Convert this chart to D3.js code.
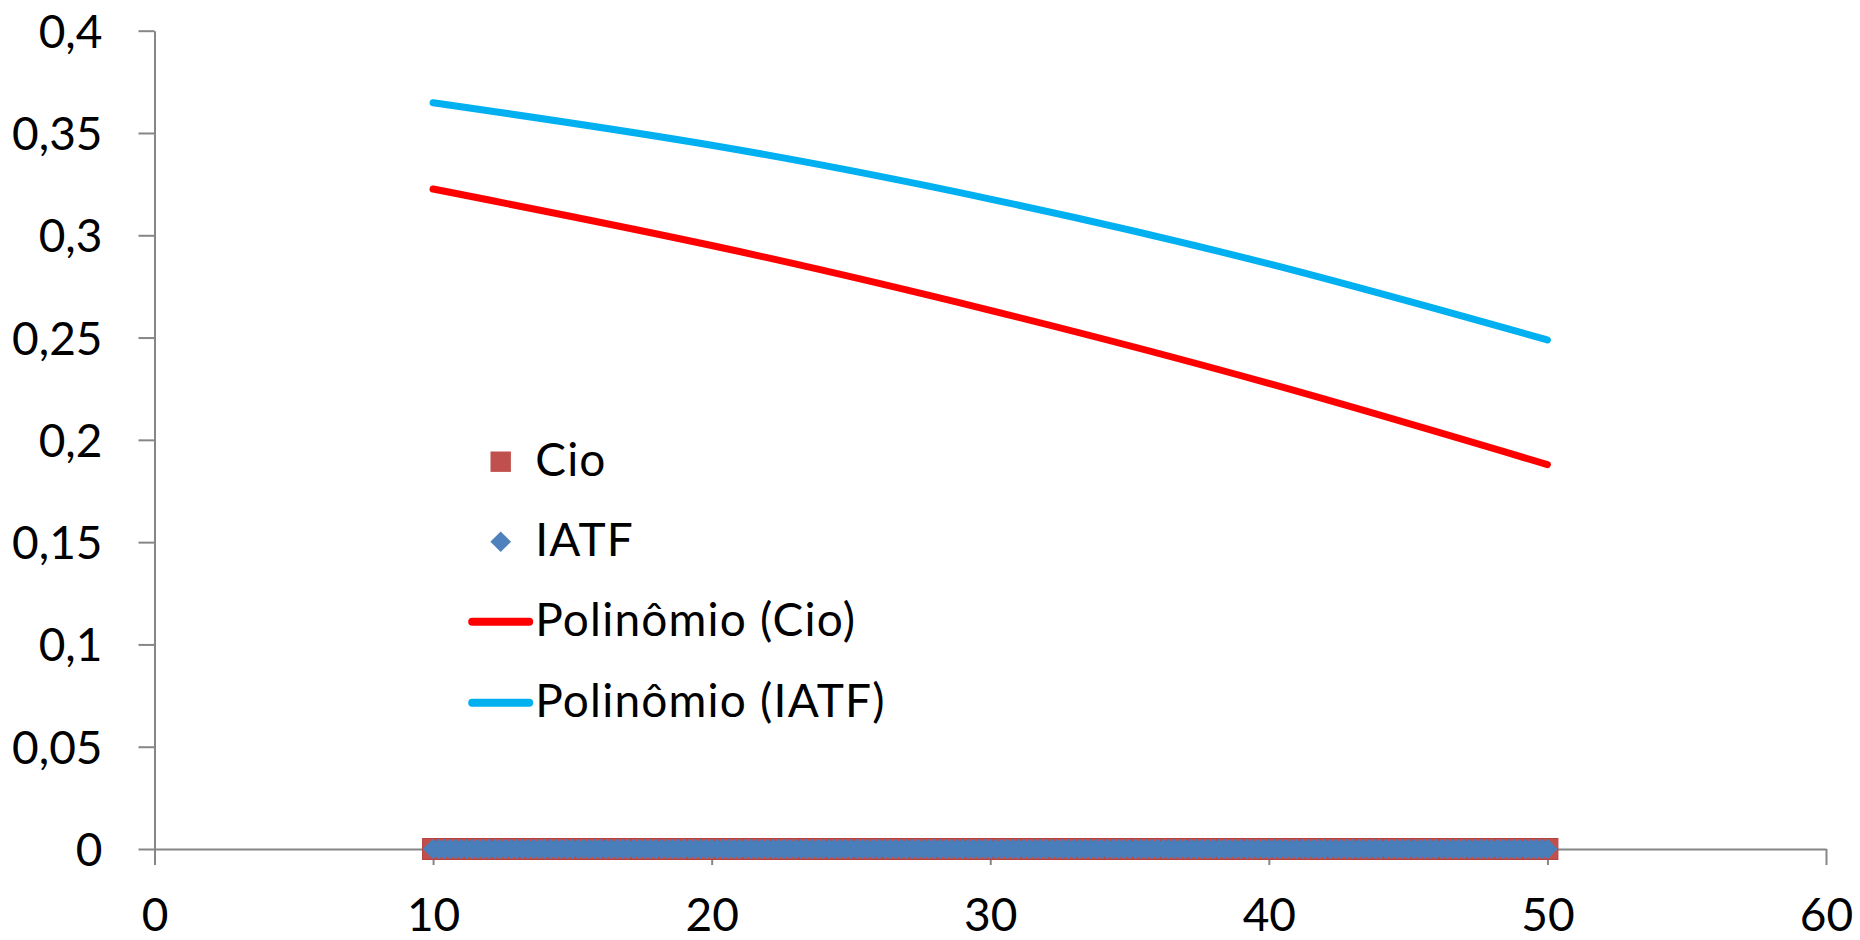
<!DOCTYPE html>
<html>
<head>
<meta charset="utf-8">
<script src="https://cdn.jsdelivr.net/npm/d3@7"></script>
<style>
  body { margin: 0; background: #fff; }
  svg { display: block; font-family: Lato, "Open Sans", sans-serif; }
</style>
</head>
<body>
<div id="grafico"></div>
<script>
// valores
const cioX = [
  10, 10.5, 11, 11.5, 12, 12.5, 13, 13.5, 14, 14.5, 15, 15.5, 16, 16.5, 17, 17.5,
  18, 18.5, 19, 19.5, 20, 20.5, 21, 21.5, 22, 22.5, 23, 23.5, 24, 24.5, 25, 25.5,
  26, 26.5, 27, 27.5, 28, 28.5, 29, 29.5, 30, 30.5, 31, 31.5, 32, 32.5, 33, 33.5,
  34, 34.5, 35, 35.5, 36, 36.5, 37, 37.5, 38, 38.5, 39, 39.5, 40, 40.5, 41, 41.5,
  42, 42.5, 43, 43.5, 44, 44.5, 45, 45.5, 46, 46.5, 47, 47.5, 48, 48.5, 49, 49.5, 50
];
const iatfX = [
  10, 10.2, 10.4, 10.6, 10.8, 11, 11.2, 11.4, 11.6, 11.8, 12, 12.2, 12.4, 12.6, 12.8,
  13, 13.2, 13.4, 13.6, 13.8, 14, 14.2, 14.4, 14.6, 14.8, 15, 15.2, 15.4, 15.6, 15.8,
  16, 16.2, 16.4, 16.6, 16.8, 17, 17.2, 17.4, 17.6, 17.8, 18, 18.2, 18.4, 18.6, 18.8,
  19, 19.2, 19.4, 19.6, 19.8, 20, 20.2, 20.4, 20.6, 20.8, 21, 21.2, 21.4, 21.6, 21.8,
  22, 22.2, 22.4, 22.6, 22.8, 23, 23.2, 23.4, 23.6, 23.8, 24, 24.2, 24.4, 24.6, 24.8,
  25, 25.2, 25.4, 25.6, 25.8, 26, 26.2, 26.4, 26.6, 26.8, 27, 27.2, 27.4, 27.6, 27.8,
  28, 28.2, 28.4, 28.6, 28.8, 29, 29.2, 29.4, 29.6, 29.8, 30, 30.2, 30.4, 30.6, 30.8,
  31, 31.2, 31.4, 31.6, 31.8, 32, 32.2, 32.4, 32.6, 32.8, 33, 33.2, 33.4, 33.6, 33.8,
  34, 34.2, 34.4, 34.6, 34.8, 35, 35.2, 35.4, 35.6, 35.8, 36, 36.2, 36.4, 36.6, 36.8,
  37, 37.2, 37.4, 37.6, 37.8, 38, 38.2, 38.4, 38.6, 38.8, 39, 39.2, 39.4, 39.6, 39.8,
  40, 40.2, 40.4, 40.6, 40.8, 41, 41.2, 41.4, 41.6, 41.8, 42, 42.2, 42.4, 42.6, 42.8,
  43, 43.2, 43.4, 43.6, 43.8, 44, 44.2, 44.4, 44.6, 44.8, 45, 45.2, 45.4, 45.6, 45.8,
  46, 46.2, 46.4, 46.6, 46.8, 47, 47.2, 47.4, 47.6, 47.8, 48, 48.2, 48.4, 48.6, 48.8,
  49, 49.2, 49.4, 49.6, 49.8, 50
];
const markerY = 0; // pontos visiveis ficam todos em 0

// linhas de tendencia (polinomio) lidas em x = 10, 20, 30, 40, 50
const trendX = [10, 20, 30, 40, 50];
const trendCio = [0.3226, 0.2950, 0.2633, 0.2276, 0.1879];
const trendIatf = [0.3648, 0.3440, 0.3177, 0.2860, 0.2488];

const xTicks = [0, 10, 20, 30, 40, 50, 60];
const yTicks = [0, 0.05, 0.1, 0.15, 0.2, 0.25, 0.3, 0.35, 0.4];

const legendLabels = ["Cio", "IATF", "Polinômio (Cio)", "Polinômio (IATF)"];

const width = 1860, height = 940;
const corEixo = "#868686";

const svg = d3.select("#grafico").append("svg")
  .attr("width", width)
  .attr("height", height);

const x = d3.scaleLinear().domain([0, 60]).range([154.5, 1826]);
const y = d3.scaleLinear().domain([0, 0.4]).range([849, 30.7]);

const ptBR = d3.formatLocale({ decimal: ",", thousands: ".", grouping: [3], currency: ["R$", ""] });
const fmt = ptBR.format(".2~f");

// eixo y
const yAxis = svg.append("g")
  .attr("transform", `translate(${x(0)},0)`)
  .call(d3.axisLeft(y).tickValues(yTicks).tickSize(16).tickSizeOuter(0).tickPadding(36).tickFormat(fmt));

// eixo x
const xAxis = svg.append("g")
  .attr("transform", `translate(0,${y(0)})`)
  .call(d3.axisBottom(x).tickValues(xTicks).tickSize(16).tickSizeOuter(0).tickPadding(33).tickFormat(d3.format("d")));

[yAxis, xAxis].forEach(g => {
  g.select(".domain").attr("stroke", corEixo).attr("stroke-width", 2);
  g.selectAll(".tick line").attr("stroke", corEixo).attr("stroke-width", 2);
  g.selectAll(".tick text")
    .attr("fill", "#000")
    .attr("font-size", 46)
    .attr("font-family", "Lato, 'Open Sans', sans-serif");
});
yAxis.selectAll(".tick text").attr("dy", "0.36em");

// marcadores
const tam = 21;
svg.append("g").selectAll("rect")
  .data(cioX)
  .join("rect")
    .attr("x", d => x(d) - tam / 2)
    .attr("y", y(markerY) - tam / 2)
    .attr("width", tam)
    .attr("height", tam)
    .attr("fill", "#C0504D")
    .attr("stroke", "#B9413E")
    .attr("stroke-width", 1);

// symbolDiamond2: meia diagonal = sqrt(size) * 0.62625
const diamante = d3.symbol().type(d3.symbolDiamond2).size(Math.pow(10.3 / 0.62625, 2));
svg.append("g").selectAll("path")
  .data(iatfX)
  .join("path")
    .attr("transform", d => `translate(${x(d)},${y(markerY)})`)
    .attr("d", diamante)
    .attr("fill", "#4A7EBB");

// linhas de tendencia
const linha = d3.line()
  .x(d => x(d[0]))
  .y(d => y(d[1]))
  .curve(d3.curveNatural);

svg.append("path")
  .datum(d3.zip(trendX, trendIatf))
  .attr("d", linha)
  .attr("fill", "none")
  .attr("stroke", "#00B0F0")
  .attr("stroke-width", 7)
  .attr("stroke-linecap", "round");

svg.append("path")
  .datum(d3.zip(trendX, trendCio))
  .attr("d", linha)
  .attr("fill", "none")
  .attr("stroke", "#FF0000")
  .attr("stroke-width", 7)
  .attr("stroke-linecap", "round");

// legenda
const leg = svg.append("g").attr("transform", "translate(500.7,0)");
const legY = [461.7, 541.7, 621.7, 702.7];

leg.append("rect")
  .attr("x", -10.2).attr("y", legY[0] - 10.2)
  .attr("width", 20.4).attr("height", 20.4)
  .attr("fill", "#C0504D");

leg.append("path")
  .attr("transform", `translate(0,${legY[1]})`)
  .attr("d", diamante)
  .attr("fill", "#4F81BD");

leg.append("line")
  .attr("x1", -28.5).attr("x2", 28.5)
  .attr("y1", legY[2]).attr("y2", legY[2])
  .attr("stroke", "#FF0000").attr("stroke-width", 8).attr("stroke-linecap", "round");

leg.append("line")
  .attr("x1", -28.5).attr("x2", 28.5)
  .attr("y1", legY[3]).attr("y2", legY[3])
  .attr("stroke", "#00B0F0").attr("stroke-width", 8).attr("stroke-linecap", "round");

leg.selectAll("text")
  .data(legendLabels)
  .join("text")
    .attr("x", 34.5)
    .attr("y", (d, i) => legY[i] + 14.5)
    .attr("font-size", 46)
    .attr("letter-spacing", 1.2)
    .attr("fill", "#000")
    .text(d => d);
</script>
</body>
</html>
